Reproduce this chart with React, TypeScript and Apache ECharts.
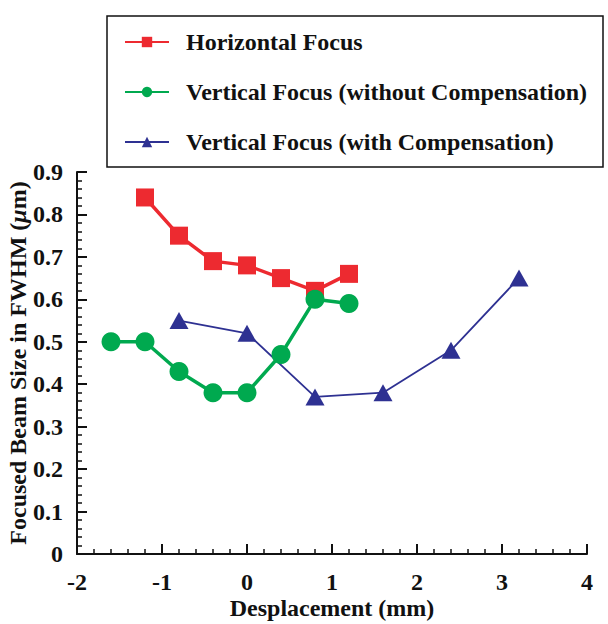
import React, { useEffect, useRef } from "react";
import * as echarts from "echarts";

const xHorizontal = [-1.2, -0.8, -0.4, 0, 0.4, 0.8, 1.2];
const yHorizontal = [0.84, 0.75, 0.69, 0.68, 0.65, 0.62, 0.66];
const xVertNoComp = [-1.6, -1.2, -0.8, -0.4, 0, 0.4, 0.8, 1.2];
const yVertNoComp = [0.5, 0.5, 0.43, 0.38, 0.38, 0.47, 0.6, 0.59];
const xVertComp = [-0.8, 0, 0.8, 1.6, 2.4, 3.2];
const yVertComp = [0.55, 0.52, 0.37, 0.38, 0.48, 0.65];

const seriesNames = [
  "Horizontal Focus",
  "Vertical Focus (without Compensation)",
  "Vertical Focus (with Compensation)",
];

const RED = "#ED2A30";
const GREEN = "#00A94F";
const BLUE = "#2E3192";
const FONT = "'Liberation Serif', 'Times New Roman', serif";

const zip = (xs: number[], ys: number[]) => xs.map((x, i) => [x, ys[i]]);

export default function App() {
  const ref = useRef<HTMLDivElement>(null);
  useEffect(() => {
    if (!ref.current) return;
    const chart = echarts.init(ref.current, undefined, { renderer: "svg" });
    const axisCommon = {
      nameMoveOverlap: false,
      axisLine: { show: true, onZero: false, lineStyle: { color: "#111", width: 2 } },
      axisTick: { show: true, inside: true, length: 10, lineStyle: { color: "#111", width: 2 } },
      minorTick: { show: true, splitNumber: 5, length: 5, lineStyle: { color: "#111", width: 1.5 } },
      splitLine: { show: false },
      minorSplitLine: { show: false },
      axisLabel: { color: "#111", fontFamily: FONT, fontWeight: "bold", fontSize: 24 },
      nameTextStyle: { color: "#111", fontFamily: FONT, fontWeight: "bold", fontSize: 24 },
    };
    chart.setOption({
      animation: false,
      backgroundColor: "#fff",
      grid: { left: 77, right: 21, top: 172, bottom: 70, containLabel: false, outerBoundsMode: "none" },
      graphic: [
        {
          type: "rect",
          shape: { x: 107, y: 16, width: 496, height: 151 },
          style: { fill: "none", stroke: "#111", lineWidth: 1.5 },
        },
      ],
      legend: {
        orient: "vertical",
        left: 124,
        top: 30,
        padding: 0,
        itemGap: 26,
        itemWidth: 44,
        itemHeight: 13,
        data: seriesNames,
        textStyle: {
          color: "#111",
          fontFamily: FONT,
          fontWeight: "bold",
          fontSize: 24,
          lineHeight: 24,
          padding: [0, 0, 0, 12],
        },
      },
      xAxis: {
        ...axisCommon,
        type: "value",
        min: -2,
        max: 4,
        interval: 1,
        name: "Desplacement (mm)",
        nameLocation: "middle",
        nameGap: 42,
        axisLabel: { ...axisCommon.axisLabel, margin: 16 },
      },
      yAxis: {
        ...axisCommon,
        type: "value",
        min: 0,
        max: 0.9,
        interval: 0.1,
        name: "Focused Beam Size in FWHM ({i|μ}m)",
        nameLocation: "middle",
        nameGap: 47,
        nameTextStyle: {
          ...axisCommon.nameTextStyle,
          rich: {
            i: { fontFamily: FONT, fontWeight: "bold", fontStyle: "italic", fontSize: 24, color: "#111" },
          },
        },
        axisLabel: {
          ...axisCommon.axisLabel,
          margin: 14,
          formatter: (v: number) => (v === 0 ? "0" : v.toFixed(1)),
        },
      },
      series: [
        {
          name: seriesNames[0],
          type: "line",
          data: zip(xHorizontal, yHorizontal),
          symbol: "rect",
          symbolSize: 18,
          itemStyle: { color: RED },
          lineStyle: { color: RED, width: 3.5 },
          z: 3,
        },
        {
          name: seriesNames[1],
          type: "line",
          data: zip(xVertNoComp, yVertNoComp),
          symbol: "circle",
          symbolSize: 19,
          itemStyle: { color: GREEN },
          lineStyle: { color: GREEN, width: 3.5 },
          z: 4,
        },
        {
          name: seriesNames[2],
          type: "line",
          data: zip(xVertComp, yVertComp),
          symbol: "triangle",
          symbolSize: [19, 17],
          itemStyle: { color: BLUE },
          lineStyle: { color: BLUE, width: 1.8 },
          z: 2,
        },
      ],
    });
    return () => chart.dispose();
  }, []);
  return <div ref={ref} style={{ width: 608, height: 624, position: "absolute", left: 0, top: 0 }} />;
}
